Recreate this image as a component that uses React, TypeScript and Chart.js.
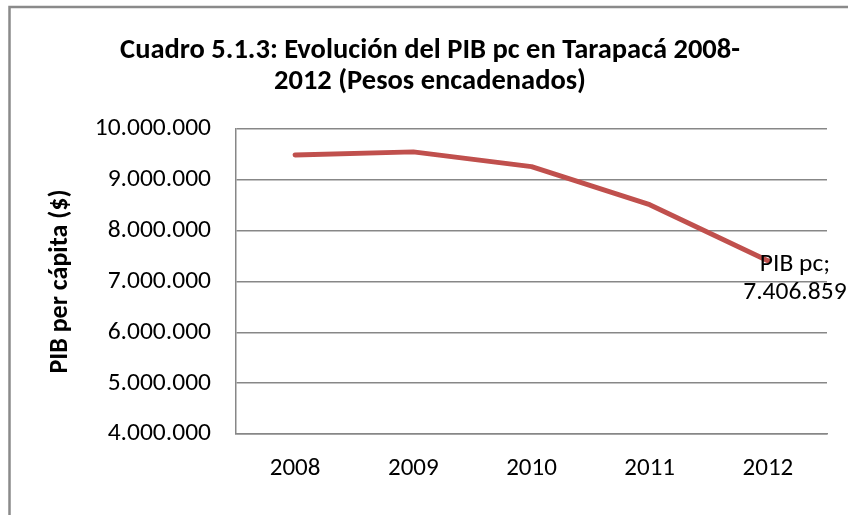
import React, { useEffect, useRef } from 'react';
import { Chart, registerables } from 'chart.js';

Chart.register(...registerables);

const years: string[] = ['2008', '2009', '2010', '2011', '2012'];
const pibPc: number[] = [9490000, 9550000, 9260000, 8510000, 7406859];
const seriesName = 'PIB pc';
const titleLines: string[] = ['Cuadro 5.1.3: Evolución del PIB pc en Tarapacá 2008-', '2012 (Pesos encadenados)'];
const yAxisTitle = 'PIB per cápita ($)';
const yMin = 4000000;
const yMax = 10000000;
const yStep = 1000000;

const FONT = 'Carlito, Calibri, Lato, sans-serif';
const GRID = '#878787';
const LINE = '#C0504D';

const fmt = (v: number) => Math.round(v).toString().replace(/\B(?=(\d{3})+(?!\d))/g, '.');

const framePlugin = {
  id: 'frame',
  beforeDraw(chart: any) {
    const ctx = chart.ctx;
    ctx.save();
    ctx.fillStyle = '#ffffff';
    ctx.fillRect(0, 0, chart.width, chart.height);
    ctx.strokeStyle = '#8a8a8a';
    ctx.lineWidth = 2.5;
    ctx.beginPath();
    ctx.moveTo(9.5, chart.height);
    ctx.lineTo(9.5, 7);
    ctx.lineTo(chart.width, 7);
    ctx.stroke();
    ctx.restore();
  },
};

const labelPlugin = {
  id: 'lastLabel',
  afterDatasetsDraw(chart: any) {
    const meta = chart.getDatasetMeta(0);
    const i = pibPc.length - 1;
    const pt = meta.data[i];
    if (!pt) return;
    const ctx = chart.ctx;
    ctx.save();
    ctx.font = `25.5px ${FONT}`;
    ctx.fillStyle = '#000';
    ctx.textAlign = 'center';
    ctx.textBaseline = 'middle';
    ctx.fillText(`${seriesName};`, pt.x + 27, pt.y + 4);
    ctx.fillText(fmt(pibPc[i]), pt.x + 27, pt.y + 32);
    ctx.restore();
  },
};

export default function App() {
  const ref = useRef<HTMLCanvasElement | null>(null);

  useEffect(() => {
    if (!ref.current) return;
    const chart = new Chart(ref.current, {
      type: 'line',
      data: {
        labels: years,
        datasets: [
          {
            label: seriesName,
            data: pibPc,
            borderColor: LINE,
            backgroundColor: LINE,
            borderWidth: 5,
            borderCapStyle: 'round',
            borderJoinStyle: 'round',
            pointRadius: 0,
            tension: 0,
            fill: false,
          },
        ],
      },
      options: {
        responsive: false,
        animation: false,
        layout: { padding: { left: 12, top: 0, right: 0, bottom: 0 } },
        plugins: {
          legend: { display: false },
          tooltip: { enabled: false },
          title: {
            display: true,
            text: titleLines,
            color: '#000',
            font: { family: FONT, size: 28.5, weight: 'bold', lineHeight: 31 / 28.5 },
            padding: { top: 35, bottom: 32 },
          },
        },
        scales: {
          x: {
            offset: true,
            grid: { display: false, drawTicks: false },
            border: { display: true, color: GRID, width: 1.5 },
            ticks: { color: '#000', font: { family: FONT, size: 25 }, padding: 20 },
            afterFit: (s: any) => {
              s.height = 81;
            },
          },
          y: {
            min: yMin,
            max: yMax,
            grid: { color: GRID, lineWidth: 1.5, drawTicks: false },
            border: { display: true, color: GRID, width: 1.5 },
            ticks: {
              stepSize: yStep,
              color: '#000',
              font: { family: FONT, size: 25.5 },
              padding: 25,
              callback: (v: any) => fmt(Number(v)),
            },
            title: {
              display: true,
              text: yAxisTitle,
              color: '#000',
              font: { family: FONT, size: 26, weight: 'bold', lineHeight: 1.2 },
              padding: { top: 32.4, bottom: 0 },
            },
            afterFit: (s: any) => {
              s.width = 224;
            },
          },
          y2: {
            type: 'linear',
            position: 'right',
            display: true,
            grid: { display: false, drawTicks: false },
            border: { display: false },
            ticks: { display: false },
            afterFit: (s: any) => {
              s.width = 21;
            },
          },
        },
      } as any,
      plugins: [framePlugin, labelPlugin],
    });
    return () => chart.destroy();
  }, []);

  return (
    <div style={{ position: 'fixed', left: 0, top: 0, width: 848, height: 515, background: '#fff' }}>
      <canvas ref={ref} width={848} height={515} style={{ display: 'block' }} />
    </div>
  );
}
